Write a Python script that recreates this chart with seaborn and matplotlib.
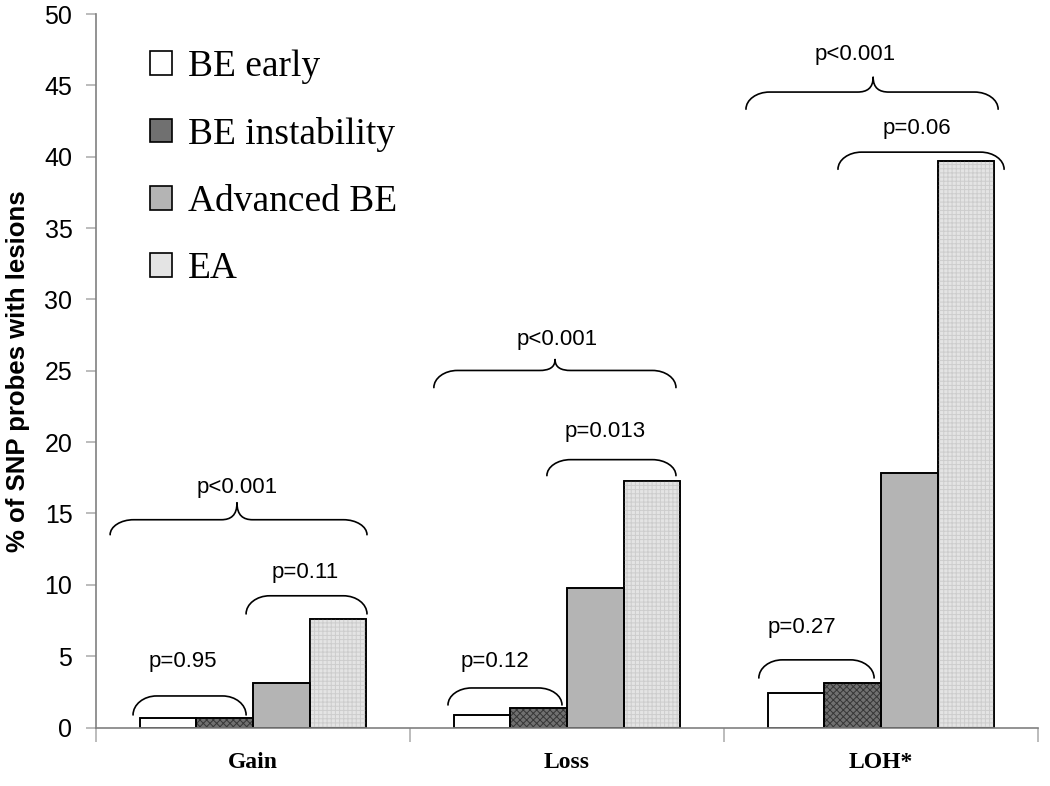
import numpy as np
import pandas as pd
import seaborn as sns
import matplotlib
import matplotlib.pyplot as plt
from matplotlib.path import Path
from matplotlib.patches import PathPatch, Rectangle, Patch
from matplotlib.font_manager import FontProperties

# ---------------- data ----------------
categories = ["Gain", "Loss", "LOH*"]
groups = ["BE early", "BE instability", "Advanced BE", "EA"]
be_early = [0.7, 0.9, 2.4]
be_instability = [0.7, 1.4, 3.1]
advanced_be = [3.1, 9.8, 17.8]
ea = [7.6, 17.3, 39.7]
yticks = [0, 5, 10, 15, 20, 25, 30, 35, 40, 45, 50]
ylabel = "% of SNP probes with lesions"

# p-value annotations: label, bracket x0, x1 (data), bracket top, end y, cusp x, cusp tip, text x, text y
p_labels = ["p=0.95", "p=0.11", "p<0.001", "p=0.12", "p=0.013", "p<0.001",
            "p=0.27", "p=0.06", "p<0.001"]
br_x0 = [-0.382, -0.022, -0.455, 0.621, 0.936, 0.576, 1.611, 1.863, 1.570]
br_x1 = [-0.022, 0.363, 0.363, 0.984, 1.347, 1.347, 1.978, 2.392, 2.373]
br_top = [2.21, 9.23, 14.56, 2.77, 18.77, 25.02, 4.74, 40.32, 44.53]
br_end = [0.88, 7.96, 13.51, 1.58, 17.65, 23.82, 3.47, 39.12, 43.33]
br_cusp = [None, None, -0.051, None, None, 0.962, None, None, 1.975]
br_tip = [None, None, 15.75, None, None, 25.79, None, None, 45.58]
txt_x = [-0.223, 0.166, -0.051, 0.771, 1.121, 0.968, 1.748, 2.115, 1.917]
txt_y = [4.60, 10.84, 16.81, 4.60, 20.74, 27.19, 6.98, 42.0, 47.19]

df = pd.DataFrame({
    "category": np.repeat(categories, len(groups)),
    "group": groups * len(categories),
    "value": [v for trio in zip(be_early, be_instability, advanced_be, ea) for v in trio],
})

colors = {"BE early": "#ffffff", "BE instability": "#707070",
          "Advanced BE": "#b4b4b4", "EA": "#e4e4e4"}
hatches = {"BE instability": ("xxxxx", "#363636"), "EA": ("++++", "#cdcdcd")}

matplotlib.rcParams["hatch.linewidth"] = 0.7

fig = plt.figure(figsize=(10.5, 7.86), dpi=100)
ax = fig.add_axes([96 / 1050, 1 - 727.5 / 786, (1038 - 96) / 1050, (727.5 - 14) / 786])

sns.barplot(data=df, x="category", y="value", hue="group", hue_order=groups,
            order=categories, palette=colors, saturation=1, width=0.72, gap=0,
            edgecolor="black", linewidth=1.2, ax=ax, legend=False, zorder=2)

# texture overlays + outlines
for grp, cont in zip(groups, ax.containers):
    for p in cont.patches:
        if grp in hatches:
            h, hc = hatches[grp]
            ax.add_patch(Rectangle(p.get_xy(), p.get_width(), p.get_height(),
                                   facecolor="none", edgecolor=hc, hatch=h,
                                   linewidth=0, zorder=2.1))
        ax.add_patch(Rectangle(p.get_xy(), p.get_width(), p.get_height(),
                               fill=False, edgecolor="black", linewidth=1.2, zorder=2.2))

ax.set_xlim(-0.5, 2.5)
ax.set_ylim(0, 50)
ax.set_yticks(yticks)

sans = FontProperties(family="Liberation Sans", size=18)
for lab in ax.get_yticklabels():
    lab.set_fontproperties(sans)
ax.tick_params(axis="y", direction="out", length=7, width=1.2, color="#b0b0b0", pad=10)

ax.set_xticks(range(len(categories)))
ax.set_xticklabels(categories, fontproperties=FontProperties(family="Liberation Serif",
                                                             size=17, weight="bold"))
ax.tick_params(axis="x", which="major", length=0, pad=18)
ax.set_xticks([-0.5, 0.5, 1.5, 2.5], minor=True)
ax.tick_params(axis="x", which="minor", direction="out", length=10, width=1.2, color="#b0b0b0")

ax.set_xlabel("")
ax.set_ylabel(ylabel, fontproperties=FontProperties(family=["Liberation Sans Narrow", "Liberation Sans"],
                                                    size=18.5, weight="bold"), labelpad=10)

for s in ["top", "right"]:
    ax.spines[s].set_visible(False)
for s in ["left", "bottom"]:
    ax.spines[s].set_color("#808080")
    ax.spines[s].set_linewidth(1.2)


def brace(ax, x0, x1, ytop, yend, cusp=None, tip=None):
    rx = 0.075
    k = 0.55
    verts = [(x0, yend), (x0, yend + k * (ytop - yend)), (x0 + (1 - k) * rx, ytop), (x0 + rx, ytop)]
    codes = [Path.MOVETO, Path.CURVE4, Path.CURVE4, Path.CURVE4]
    if cusp is not None:
        cw = 0.05
        verts += [(cusp - cw, ytop), (cusp - 0.4 * cw, ytop), (cusp, ytop + 0.25 * (tip - ytop)), (cusp, tip)]
        codes += [Path.LINETO, Path.CURVE4, Path.CURVE4, Path.CURVE4]
        verts += [(cusp, ytop + 0.25 * (tip - ytop)), (cusp + 0.4 * cw, ytop), (cusp + cw, ytop)]
        codes += [Path.CURVE4, Path.CURVE4, Path.CURVE4]
    verts += [(x1 - rx, ytop), (x1 - (1 - k) * rx, ytop), (x1, yend + k * (ytop - yend)), (x1, yend)]
    codes += [Path.LINETO, Path.CURVE4, Path.CURVE4, Path.CURVE4]
    ax.add_patch(PathPatch(Path(verts, codes), facecolor="none", edgecolor="black",
                           linewidth=1.2, zorder=3, capstyle="round", joinstyle="round"))


for i, lab in enumerate(p_labels):
    brace(ax, br_x0[i], br_x1[i], br_top[i], br_end[i], br_cusp[i], br_tip[i])
    ax.text(txt_x[i], txt_y[i], lab, ha="center", va="center",
            fontproperties=FontProperties(family="Liberation Sans", size=16), zorder=4)

handles = [Patch(facecolor=colors[g], edgecolor="black", linewidth=1.2) for g in groups]
ax.legend(handles, groups, loc="upper left", bbox_to_anchor=(0.057, 0.95), frameon=False,
          prop=FontProperties(family="Liberation Serif", size=27),
          handlelength=0.6, handleheight=0.6, handletextpad=0.42,
          labelspacing=0.87, borderpad=0, borderaxespad=0)

fig.savefig("out.png", dpi=100)
